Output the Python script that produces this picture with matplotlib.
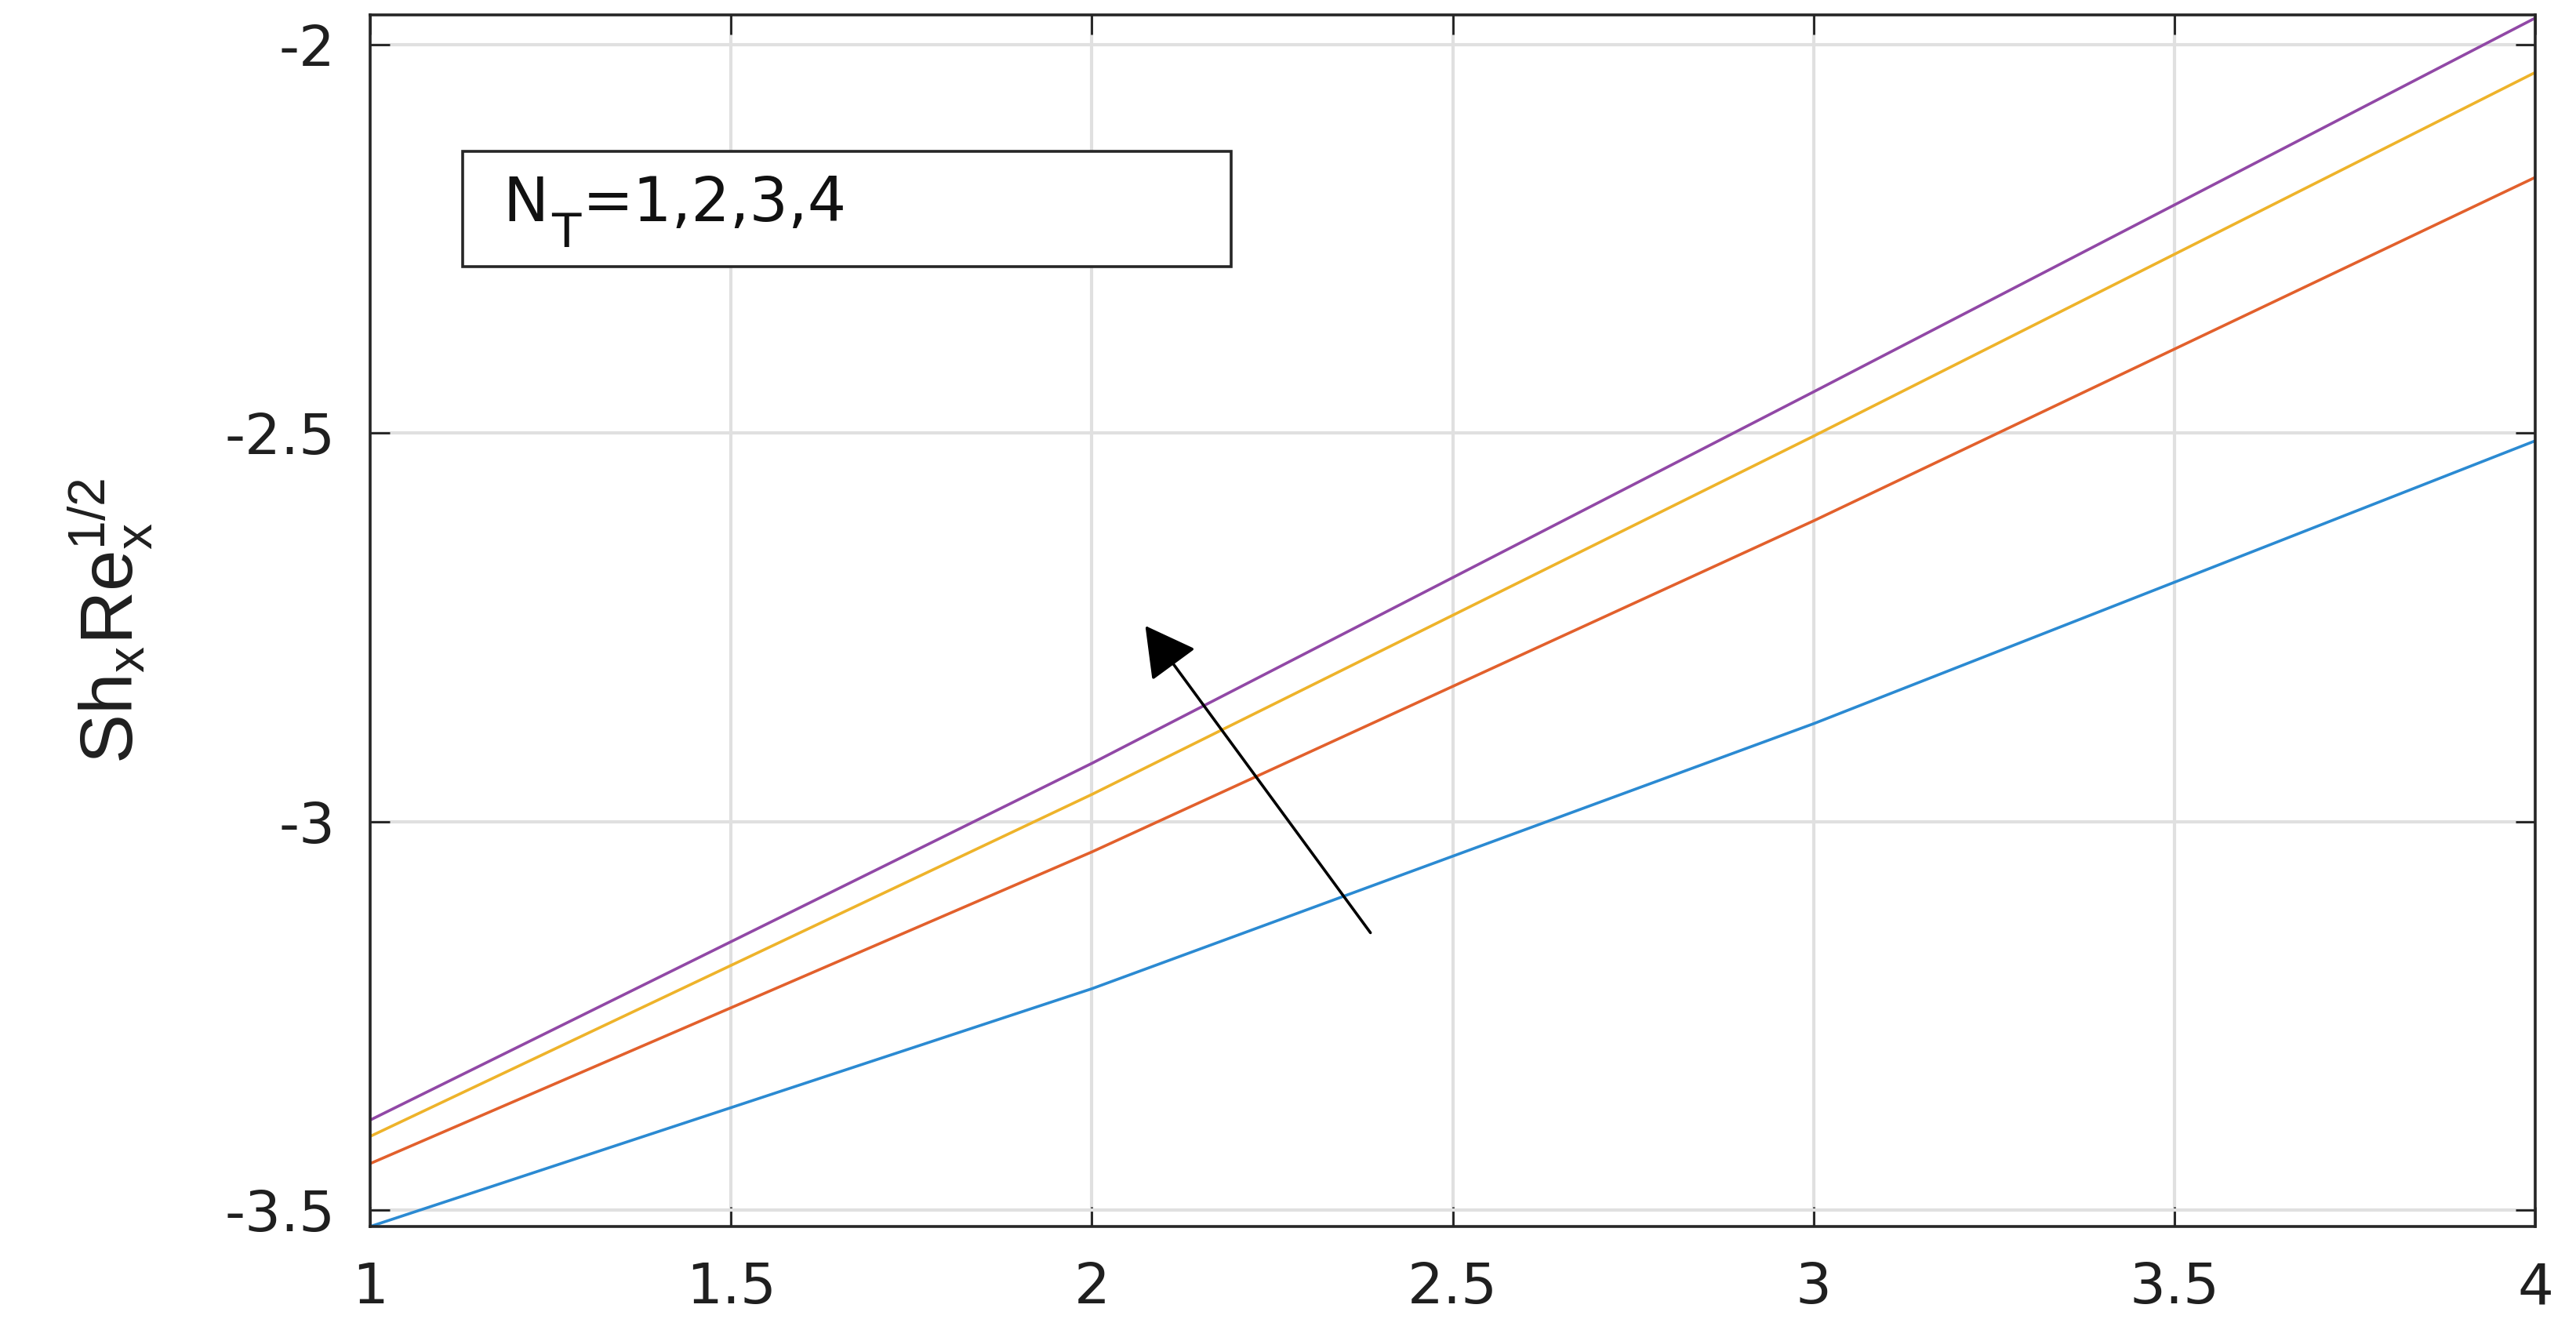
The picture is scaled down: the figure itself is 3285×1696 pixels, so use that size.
import matplotlib
matplotlib.use("Agg")
import matplotlib.pyplot as plt
from matplotlib.patches import Rectangle
from matplotlib.transforms import offset_copy

plt.rcParams['font.family'] = ['DejaVu Sans']
plt.rcParams['axes.unicode_minus'] = False
# math parts of the y label in the same face as the label itself
plt.rcParams['mathtext.fontset'] = 'custom'
plt.rcParams['mathtext.rm'] = 'Liberation Sans'
plt.rcParams['mathtext.it'] = 'Liberation Sans'
plt.rcParams['mathtext.default'] = 'rm'

# --- data ---
x_vals = [1, 2, 3, 4]
nt_1 = [-3.521, -3.215, -2.874, -2.510]
nt_2 = [-3.440, -3.039, -2.613, -2.171]
nt_3 = [-3.405, -2.965, -2.504, -2.036]
nt_4 = [-3.384, -2.925, -2.447, -1.966]
series = [nt_1, nt_2, nt_3, nt_4]
colors = ['#2b8ad2', '#e2602c', '#eeb32a', '#9148a6']

x_ticks = [1, 1.5, 2, 2.5, 3, 3.5, 4]
x_tick_labels = ['1', '1.5', '2', '2.5', '3', '3.5', '4']
y_ticks = [-3.5, -3, -2.5, -2]
y_tick_labels = ['-3.5', '-3', '-2.5', '-2']

# arrow (tail -> head), in data units
arrow_tail = (2.386, -3.143)
arrow_head = (2.074, -2.748)

fig = plt.figure(figsize=(16.425, 8.48), dpi=200)
ax = fig.add_axes([0.1437, 0.0778, 0.8405, 0.911])

for ys, c in zip(series, colors):
    ax.plot(x_vals, ys, color=c, linewidth=1.3)

ax.set_xlim(1, 4)
ax.set_ylim(-3.521, -1.962)
ax.set_xticks(x_ticks)
ax.set_xticklabels(x_tick_labels)
ax.set_yticks(y_ticks)
ax.set_yticklabels(y_tick_labels)

ax.grid(True, color='#e0e0e0', linewidth=1.5)
ax.set_axisbelow(True)
ax.tick_params(direction='in', length=9, width=1.0, labelsize=26, pad=16,
               top=True, right=True, colors='#1f1f1f')
for s in ax.spines.values():
    s.set_color('#262626')
    s.set_linewidth(1.3)

# y label - narrower face, the source picture squeezes it
ax.set_ylabel(r'Sh$_x$Re$_x^{1/2}$', fontsize=34, color='#1f1f1f',
              va='center', ha='center', family=['Liberation Sans'])
ax.yaxis.set_label_coords(-0.12, 0.5)

# text box with N_T values
ax.add_patch(Rectangle((0.0427, 0.7922), 0.3548, 0.0954, transform=ax.transAxes,
                       fill=True, facecolor='white', edgecolor='#262626',
                       linewidth=1.3, zorder=3))

# N, subscript T, then the values - placed one after the other
rend = fig.canvas.get_renderer()
base_y = 0.830
t_n = ax.text(0.0612, base_y, 'N', transform=ax.transAxes,
              fontsize=28, va='baseline', ha='left', zorder=4, color='#111111')
bb = t_n.get_window_extent(rend)
x_next = ax.transAxes.inverted().transform((bb.x1 + 4, bb.y0))[0]
t_t = ax.text(x_next, base_y, 'T',
              transform=offset_copy(ax.transAxes, fig=fig, x=0, y=-12, units='points'),
              fontsize=22, va='baseline', ha='left', zorder=4, color='#111111')
bb = t_t.get_window_extent(rend)
x_next = ax.transAxes.inverted().transform((bb.x1 + 2, bb.y0))[0]
ax.text(x_next, base_y, '=1,2,3,4', transform=ax.transAxes,
        fontsize=28, va='baseline', ha='left', zorder=4, color='#111111')

ax.annotate('', xy=arrow_head, xytext=arrow_tail,
            arrowprops=dict(arrowstyle='-|>,head_length=2.0,head_width=1.1',
                            mutation_scale=10, color='black', linewidth=1.3,
                            shrinkA=0, shrinkB=0))

fig.savefig('out.png', dpi=200)
